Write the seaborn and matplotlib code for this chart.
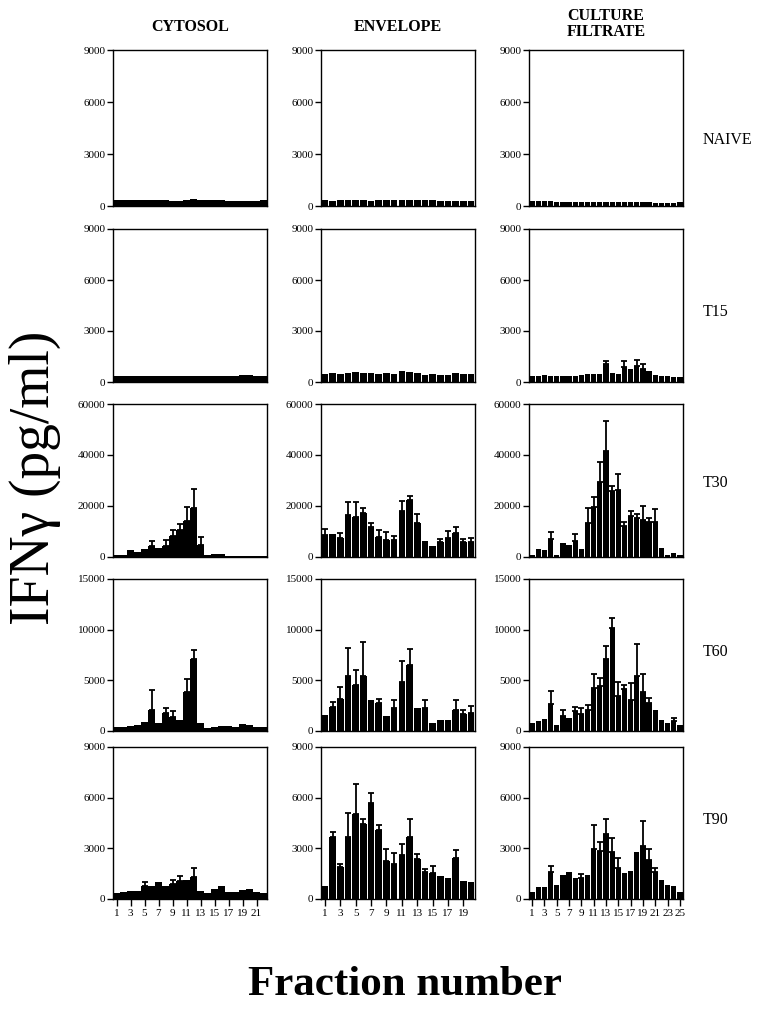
import numpy as np
import pandas as pd
import matplotlib
matplotlib.use("Agg")
import matplotlib.pyplot as plt
import seaborn as sns

# --- Data: IFN-gamma (pg/ml) per fraction ---
cols = ["CYTOSOL", "ENVELOPE", "CULTURE\nFILTRATE"]
rows = ["NAIVE", "T15", "T30", "T60", "T90"]
y_max = {"NAIVE": 9000, "T15": 9000, "T30": 60000, "T60": 15000, "T90": 9000}
y_ticks = {
    "NAIVE": [0, 3000, 6000, 9000],
    "T15": [0, 3000, 6000, 9000],
    "T30": [0, 20000, 40000, 60000],
    "T60": [0, 5000, 10000, 15000],
    "T90": [0, 3000, 6000, 9000],
}

# cytosol: 22 fractions
cyt_naive = [330, 320, 320, 320, 320, 320, 320, 320, 300, 300, 320, 380,
             320, 320, 320, 320, 310, 300, 300, 310, 310, 330]
cyt_t15 = [350, 340, 330, 330, 330, 350, 340, 350, 350, 330, 350, 350,
           350, 350, 350, 350, 350, 350, 400, 400, 350, 330]
cyt_t30 = [650, 900, 2600, 2000, 3000, 4300, 3700, 4500, 8400, 10400, 14100, 19300,
           4900, 650, 1300, 1000, 400, 350, 450, 500, 400, 350]
cyt_t30_top = [0, 0, 0, 0, 0, 6300, 0, 6600, 10700, 13000, 19700, 26700,
               7800, 0, 0, 0, 0, 0, 0, 0, 0, 0]
cyt_t60 = [400, 400, 460, 600, 900, 2040, 760, 1740, 1380, 1050, 3850, 7100,
           790, 330, 430, 460, 460, 430, 690, 560, 360, 360]
cyt_t60_top = [0, 0, 0, 0, 0, 4000, 0, 2240, 1970, 0, 5100, 8000,
               0, 0, 0, 0, 0, 0, 0, 0, 0, 0]
cyt_t90 = [350, 410, 450, 490, 780, 780, 1020, 780, 860, 1080, 1140, 1330,
           490, 370, 590, 750, 410, 410, 530, 570, 430, 370]
cyt_t90_top = [0, 0, 0, 0, 980, 0, 0, 0, 1120, 1390, 0, 1820,
               0, 0, 0, 0, 0, 0, 0, 0, 0, 0]

# envelope: 20 fractions
env_naive = [330, 300, 320, 330, 330, 320, 310, 320, 330, 320,
             320, 330, 330, 330, 320, 300, 300, 300, 300, 300]
env_t15 = [460, 530, 480, 550, 600, 550, 550, 500, 550, 500,
           620, 580, 520, 400, 500, 420, 440, 550, 480, 500]
env_t30 = [8600, 8900, 7600, 16400, 15700, 17100, 11800, 7900, 6800, 6800,
           17900, 22200, 13200, 6100, 4300, 5700, 7500, 9500, 5900, 5700]
env_t30_top = [10900, 0, 9500, 21400, 21400, 19100, 13400, 10500, 9700, 8200,
               21800, 24100, 16800, 0, 0, 7000, 10100, 11800, 7000, 7600]
env_t60 = [1580, 2330, 3160, 5420, 4540, 5420, 3060, 2730, 1480, 2300,
           4840, 6480, 2240, 2240, 820, 1050, 1120, 2070, 1710, 1780]
env_t60_top = [0, 2860, 4340, 8150, 6020, 8780, 0, 3120, 0, 3090,
               6910, 8060, 0, 3030, 0, 0, 0, 3030, 2040, 2500]
env_t90 = [790, 3690, 1900, 3690, 5030, 4420, 5700, 4090, 2260, 2060,
           2610, 3650, 2360, 1590, 1550, 1360, 1220, 2400, 1040, 980]
env_t90_top = [0, 3990, 2100, 5110, 6820, 4730, 6250, 4400, 2950, 2750,
               3260, 4720, 2670, 1770, 1960, 0, 0, 2930, 0, 0]

# culture filtrate: 25 fractions
cf_naive = [300, 300, 300, 260, 220, 220, 220, 220, 220, 220, 220, 220, 220,
            220, 220, 220, 220, 220, 220, 220, 200, 200, 200, 200, 220]
cf_t15 = [340, 350, 400, 360, 350, 350, 340, 380, 400, 480, 480, 500, 1040,
          520, 480, 860, 780, 920, 750, 650, 400, 380, 330, 300, 280]
cf_t15_top = [0, 0, 0, 0, 0, 0, 0, 0, 0, 0, 0, 0, 1240,
              0, 0, 1250, 0, 1270, 1080, 0, 0, 0, 0, 0, 0]
cf_t30 = [650, 3300, 2900, 7200, 900, 5300, 4900, 6200, 3200, 13300, 19600, 29300, 41600,
          25900, 26300, 12000, 15900, 15100, 14600, 13800, 13600, 3400, 900, 1600, 800]
cf_t30_top = [0, 0, 0, 9900, 0, 0, 0, 9100, 0, 19200, 23600, 37100, 53400,
              27900, 32600, 13700, 18000, 16700, 20100, 15300, 18700, 0, 0, 0, 0]
cf_t60 = [750, 950, 1200, 2650, 590, 1440, 1270, 1960, 1700, 2090, 4250, 4410, 7090,
          10200, 3500, 4150, 3100, 5420, 3820, 2810, 2090, 1050, 820, 950, 590]
cf_t60_top = [0, 0, 0, 3950, 0, 2030, 0, 2390, 2250, 2520, 5590, 5260, 8430,
              11180, 4800, 4540, 4740, 8590, 5590, 3270, 0, 0, 0, 1310, 0]
cf_t90 = [430, 690, 690, 1590, 840, 1450, 1590, 1250, 1250, 1430, 2980, 2860, 3840,
          2800, 1820, 1510, 1670, 2760, 3140, 2310, 1590, 1100, 800, 750, 410]
cf_t90_top = [0, 0, 0, 1980, 0, 0, 0, 0, 1490, 0, 4370, 3350, 4760,
              3630, 2410, 0, 0, 0, 4590, 2940, 1860, 0, 0, 0, 0]

panels = {
    ("NAIVE", 0): (cyt_naive, None), ("NAIVE", 1): (env_naive, None), ("NAIVE", 2): (cf_naive, None),
    ("T15", 0): (cyt_t15, None), ("T15", 1): (env_t15, None), ("T15", 2): (cf_t15, cf_t15_top),
    ("T30", 0): (cyt_t30, cyt_t30_top), ("T30", 1): (env_t30, env_t30_top), ("T30", 2): (cf_t30, cf_t30_top),
    ("T60", 0): (cyt_t60, cyt_t60_top), ("T60", 1): (env_t60, env_t60_top), ("T60", 2): (cf_t60, cf_t60_top),
    ("T90", 0): (cyt_t90, cyt_t90_top), ("T90", 1): (env_t90, env_t90_top), ("T90", 2): (cf_t90, cf_t90_top),
}

# --- Layout (pixels) ---
W, H = 762, 1011
col_left = [113, 321, 529]
col_w = 154
row_top = [50, 229, 404, 579, 747]
row_h = [156, 153, 153, 152, 152]

sns.set_style("ticks")
plt.rcParams["font.family"] = ["Liberation Serif", "DejaVu Serif"]
plt.rcParams.update({"text.color": "black", "axes.labelcolor": "black",
                     "xtick.color": "black", "ytick.color": "black",
                     "axes.edgecolor": "black"})

fig = plt.figure(figsize=(W / 100, H / 100), dpi=100)

for r, row in enumerate(rows):
    for c in range(3):
        vals, tops = panels[(row, c)]
        n = len(vals)
        ax = fig.add_axes([col_left[c] / W, 1 - (row_top[r] + row_h[r]) / H,
                           col_w / W, row_h[r] / H])
        df = pd.DataFrame({"fraction": np.arange(1, n + 1), "ifn": vals})
        sns.barplot(data=df, x="fraction", y="ifn", color="black", saturation=1,
                    width=0.86, linewidth=0, ax=ax)
        if tops is not None:
            v = np.array(vals, dtype=float)
            t = np.array(tops, dtype=float)
            m = t > 0
            xs = np.arange(n)[m]
            ax.errorbar(xs, v[m], yerr=[np.zeros(m.sum()), t[m] - v[m]],
                        fmt="none", ecolor="black", elinewidth=1.3,
                        capsize=2.3, capthick=1.3)
        ax.set_xlim(-0.5, n - 0.5)
        ax.set_ylim(0, y_max[row])
        ax.set_yticks(y_ticks[row])
        ax.set_yticklabels([str(v) for v in y_ticks[row]], fontsize=8)
        ax.set_xlabel("")
        ax.set_ylabel("")
        for s in ax.spines.values():
            s.set_visible(True)
            s.set_linewidth(1.0)
            s.set_color("black")
        ax.tick_params(axis="y", direction="out", length=4, width=1, pad=1.5)
        if r == len(rows) - 1:
            pos = np.arange(0, n, 2)
            ax.set_xticks(pos)
            ax.set_xticklabels([str(p + 1) for p in pos], fontsize=8)
            ax.tick_params(axis="x", direction="out", length=5, width=1, pad=2)
        else:
            ax.set_xticks([])

# column titles
for c, name in enumerate(cols):
    yc = 27 if "\n" not in name else 24
    fig.text((col_left[c] + col_w / 2) / W, 1 - yc / H, name, ha="center", va="center",
             fontsize=11.5, fontweight="bold", linespacing=1.0)

# row labels
row_y = [140, 312, 483, 652, 820]
for r, row in enumerate(rows):
    fig.text(703 / W, 1 - row_y[r] / H, row, ha="left", va="center", fontsize=11.5)

fig.text(35 / W, 1 - 478 / H, "IFNγ (pg/ml)", rotation=90, ha="center", va="center",
         fontsize=40)
fig.text(405 / W, 1 - 985 / H, "Fraction number", ha="center", va="center",
         fontsize=31, fontweight="bold")

fig.savefig("out.png", dpi=100)
